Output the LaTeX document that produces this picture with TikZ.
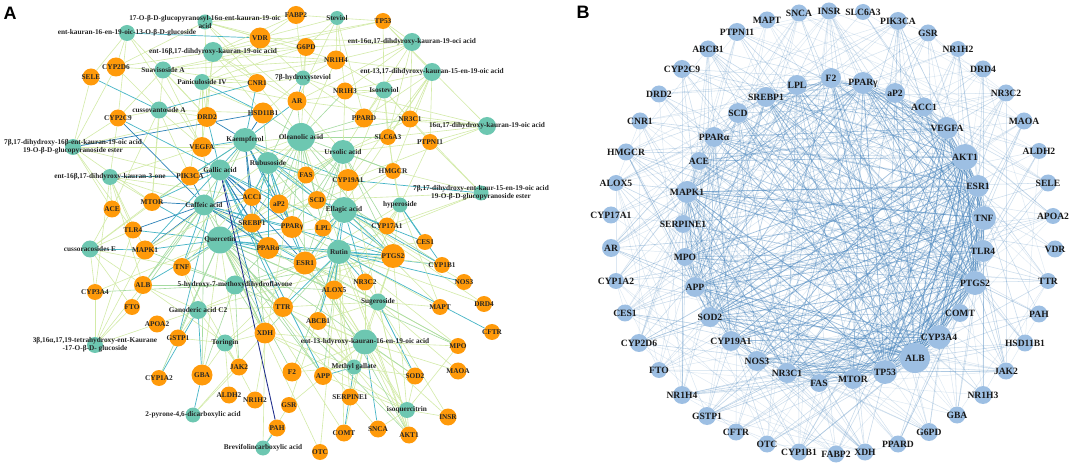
\documentclass[tikz,border=0pt]{standalone}
\usepackage{fontspec}
\setmainfont{Liberation Serif}
\newfontfamily\panelfont{Liberation Sans}
\pgfdeclarelayer{bg}\pgfdeclarelayer{fg}\pgfsetlayers{bg,main,fg}
\definecolor{cteal}{HTML}{6DC7B1}
\definecolor{corange}{HTML}{FF9A0A}
\definecolor{cblue}{HTML}{9DBFE3}
\definecolor{eLc}{HTML}{D3EBA8}
\definecolor{eMc}{HTML}{A5DBA0}
\definecolor{eTc}{HTML}{45B5C6}
\definecolor{eBc}{HTML}{2C82B8}
\definecolor{eNc}{HTML}{23318E}
\definecolor{bEc}{HTML}{4A86BE}
\tikzset{
 cmp/.style={circle,fill=cteal,inner sep=0pt,draw=none},
 tgt/.style={circle,fill=corange,inner sep=0pt,draw=none},
 bn/.style={circle,fill=cblue,inner sep=0pt,draw=none},
 labA/.style={font=\fontsize{7.3}{8}\selectfont\bfseries,text=black!85,align=center,inner sep=0pt},
 labB/.style={font=\fontsize{9.6}{10}\selectfont\bfseries,text=black!90,inner sep=0pt},
 eL/.style={draw=eLc,line width=0.6pt},
 eM/.style={draw=eMc,line width=0.6pt},
 eT/.style={draw=eTc,line width=0.7pt},
 eB/.style={draw=eBc,line width=0.7pt},
 eN/.style={draw=eNc,line width=0.9pt},
 eBl/.style={draw=bEc},
 plab/.style={font=\panelfont\bfseries\fontsize{18}{18}\selectfont,inner sep=0pt}
}
\newcommand\mkA[5]{\node[#1,minimum size=#4pt] (#2) at (#3) {};\begin{pgfonlayer}{fg}\node[labA] at (#3) {#5};\end{pgfonlayer}}
\newcommand\mkB[4]{\node[bn,minimum size=#3pt] (B#1) at (#2) {};\begin{pgfonlayer}{fg}\node[labB] at (#2) {#4};\end{pgfonlayer}}
\newcommand\kE[3]{\foreach \t in {#3} {\draw[#1] (#2) -- (A\t);}}
\def\Blist{MAPT/.3,SNCA/.3,INSR/.3,SLC6A3/.28,PIK3CA/.45,GSR/.3,NR1H2/.28,DRD4/.28,NR3C2/.32,MAOA/.3,ALDH2/.28,SELE/.3,APOA2/.28,VDR/.28,TTR/.3,PAH/.28,HSD11B1/.32,JAK2/.35,NR1H3/.35,GBA/.3,G6PD/.32,PPARD/.3,XDH/.32,FABP2/.3,CYP1B1/.32,OTC/.28,CFTR/.28,GSTP1/.4,NR1H4/.35,FTO/.25,CYP2D6/.35,CES1/.3,CYP1A2/.32,AR/.4,CYP17A1/.32,ALOX5/.35,HMGCR/.35,CNR1/.3,DRD2/.32,CYP2C9/.35,ABCB1/.35,PTPN11/.35,LPL/.6,SREBP1/.6,SCD/.55,PPARa/.6,ACE/.55,MAPK1/.8,SERPINE1/.55,MPO/.6,APP/.75,SOD2/.7,CYP19A1/.7,NOS3/.7,NR3C1/.7,FAS/.5,MTOR/.7,TP53/.9,ALB/.95,CYP3A4/.9,COMT/.5,PTGS2/.9,TLR4/.75,TNF/.9,ESR1/.85,AKT1/.95,VEGFA/.85,ACC1/.55,aP2/.55,PPARg/.75,F2/.65}
\begin{document}
\begin{tikzpicture}[x=1pt,y=-1pt]
\useasboundingbox (0,0) rectangle (1072,465);
\begin{pgfonlayer}{bg}\fill[white] (0,0) rectangle (1072,465);\end{pgfonlayer}
\node[plab] (LA) at (10,13) {A};
\node[plab] (LB) at (583,12.5) {B};
% ---------- Panel A: compounds ----------
\mkA{cmp}{K1}{205,22}{15}{17-O-β-D-glucopyranosyl-16α-ent-kauran-19-oic\\acid}
\mkA{cmp}{K2}{127,33}{16}{ent-kauran-16-en-19-oic-13-O-β-D-glucoside}
\mkA{cmp}{K3}{213,52}{20}{ent-16β,17-dihdyroxy-kauran-19-oic acid}
\mkA{cmp}{K4}{163,70}{17}{Suavisoside A}
\mkA{cmp}{K5}{202,82}{16}{Paniculoside IV}
\mkA{cmp}{K6}{159,110}{17}{cussovantoside A}
\mkA{cmp}{K7}{73,147}{16}{7β,17-dihydroxy-16β-ent-kauran-19-oic acid\\19-O-β-D-glucopyranoside ester}
\mkA{cmp}{K8}{110,177}{16}{ent-16β,17-dihdyroxy-kauran-3-one}
\mkA{cmp}{K9}{90,249}{17}{cussoracosides E}
\mkA{cmp}{K10}{95,345}{16}{3β,16α,17,19-tetrahydroxy-ent-Kaurane\\-17-O-β-D- glucoside}
\mkA{cmp}{K11}{337,18}{14}{Steviol}
\mkA{cmp}{K12}{412,42}{18}{ent-16α,17-dihdyroxy-kauran-19-oci acid}
\mkA{cmp}{K13}{432,72}{18}{ent-13,17-dihdyroxy-kauran-15-en-19-oic acid}
\mkA{cmp}{K14}{303,78}{15}{7β-hydroxysteviol}
\mkA{cmp}{K15}{384,90}{17}{Isosteviol}
\mkA{cmp}{K16}{487,126}{18}{16α,17-dihydroxy-kauran-19-oic acid}
\mkA{cmp}{K17}{481,193}{15}{7β,17-dihydroxy-ent-kaur-15-en-19-oic acid\\19-O-β-D-glucopyranoside ester}
\mkA{cmp}{K18}{400,205}{15}{hyperoside}
\mkA{cmp}{K19}{378,302}{17}{Sugeroside}
\mkA{cmp}{K20}{365,342}{25}{ent-13-hdyroxy-kauran-16-en-19-oic acid}
\mkA{cmp}{K21}{354,367}{15}{Methyl gallate}
\mkA{cmp}{K22}{407,410}{16}{isoquercitrin}
\mkA{cmp}{K23}{263,448}{15}{Brevifolincarboxylic acid}
\mkA{cmp}{K24}{193,415}{15}{2-pyrone-4,6-dicarboxylic acid}
\mkA{cmp}{K25}{225,343}{17}{Toringin}
\mkA{cmp}{K26}{198,310}{18}{Ganoderic acid C2}
\mkA{cmp}{K27}{235,285}{19}{5-hydroxy-7-methoxydihydroflavone}
\mkA{cmp}{K28}{220,240}{27}{Quercetin}
\mkA{cmp}{K29}{204,205}{21}{Caffeic acid}
\mkA{cmp}{K30}{220,170}{21}{Gallic acid}
\mkA{cmp}{K31}{245,140}{24}{Kaempferol}
\mkA{cmp}{K32}{301,137}{28}{Oleanolic acid}
\mkA{cmp}{K33}{343,152}{24}{Ursolic acid}
\mkA{cmp}{K34}{268,163}{22}{Rubusoside}
\mkA{cmp}{K35}{344,210}{26}{Ellagic acid}
\mkA{cmp}{K36}{339,252}{24}{Rutin}
% ---------- Panel A: targets ----------
\mkA{tgt}{ASELE}{91,77}{17}{SELE}
\mkA{tgt}{ACYP2D6}{116,67}{19}{CYP2D6}
\mkA{tgt}{ACNR1}{257,83}{18}{CNR1}
\mkA{tgt}{ANR1H3}{345,91}{17}{NR1H3}
\mkA{tgt}{AAR}{297,101}{19}{AR}
\mkA{tgt}{ADRD2}{207,117}{20}{DRD2}
\mkA{tgt}{AHSD11B1}{263,113}{21}{HSD11B1}
\mkA{tgt}{APPARD}{364,118}{19}{PPARD}
\mkA{tgt}{ANR3C1}{410,119}{17}{NR3C1}
\mkA{tgt}{ACYP2C9}{118,118}{17}{CYP2C9}
\mkA{tgt}{AVEGFA}{202,147}{20}{VEGFA}
\mkA{tgt}{ASLC6A3}{388,137}{16}{SLC6A3}
\mkA{tgt}{APTPN11}{430,142}{16}{PTPN11}
\mkA{tgt}{APIK3CA}{190,176}{19}{PIK3CA}
\mkA{tgt}{AFAS}{306,175}{17}{FAS}
\mkA{tgt}{ACYP19A1}{348,180}{22}{CYP19A1}
\mkA{tgt}{AHMGCR}{393,171}{16}{HMGCR}
\mkA{tgt}{AACE}{112,209}{17}{ACE}
\mkA{tgt}{AMTOR}{152,202}{18}{MTOR}
\mkA{tgt}{AACC1}{252,197}{18}{ACC1}
\mkA{tgt}{AaP2}{279,204}{19}{aP2}
\mkA{tgt}{ASCD}{317,200}{18}{SCD}
\mkA{tgt}{ASREBP1}{252,223}{19}{SREBP1}
\mkA{tgt}{ATLR4}{133,230}{17}{TLR4}
\mkA{tgt}{APPARg}{292,227}{22}{PPARγ}
\mkA{tgt}{ALPL}{323,228}{17}{LPL}
\mkA{tgt}{ACYP17A1}{387,226}{17}{CYP17A1}
\mkA{tgt}{AMAPK1}{145,250}{19}{MAPK1}
\mkA{tgt}{APPARa}{268,248}{22}{PPARα}
\mkA{tgt}{ACES1}{425,242}{16}{CES1}
\mkA{tgt}{AESR1}{305,263}{23}{ESR1}
\mkA{tgt}{APTGS2}{393,256}{24}{PTGS2}
\mkA{tgt}{ACYP1B1}{442,265}{16}{CYP1B1}
\mkA{tgt}{ATNF}{182,267}{18}{TNF}
\mkA{tgt}{ANOS3}{464,282}{16}{NOS3}
\mkA{tgt}{ACYP3A4}{95,292}{16}{CYP3A4}
\mkA{tgt}{AALB}{143,285}{18}{ALB}
\mkA{tgt}{ANR3C2}{365,282}{17}{NR3C2}
\mkA{tgt}{AALOX5}{334,290}{19}{ALOX5}
\mkA{tgt}{AMAPT}{440,307}{16}{MAPT}
\mkA{tgt}{ADRD4}{484,304}{16}{DRD4}
\mkA{tgt}{ATTR}{283,307}{20}{TTR}
\mkA{tgt}{AFTO}{132,307}{16}{FTO}
\mkA{tgt}{AABCB1}{318,321}{18}{ABCB1}
\mkA{tgt}{AXDH}{265,333}{21}{XDH}
\mkA{tgt}{AAPOA2}{157,324}{17}{APOA2}
\mkA{tgt}{AGSTP1}{178,338}{17}{GSTP1}
\mkA{tgt}{ACFTR}{492,332}{16}{CFTR}
\mkA{tgt}{AMPO}{458,346}{16}{MPO}
\mkA{tgt}{AJAK2}{239,367}{17}{JAK2}
\mkA{tgt}{ACYP1A2}{159,378}{16}{CYP1A2}
\mkA{tgt}{AGBA}{202,375}{21}{GBA}
\mkA{tgt}{ASOD2}{415,376}{17}{SOD2}
\mkA{tgt}{AMAOA}{458,371}{17}{MAOA}
\mkA{tgt}{AF2}{292,372}{19}{F2}
\mkA{tgt}{AAPP}{323,376}{18}{APP}
\mkA{tgt}{AALDH2}{229,395}{17}{ALDH2}
\mkA{tgt}{ANR1H2}{255,400}{17}{NR1H2}
\mkA{tgt}{ASERPINE1}{350,397}{17}{SERPINE1}
\mkA{tgt}{AGSR}{289,405}{16}{GSR}
\mkA{tgt}{AINSR}{448,417}{17}{INSR}
\mkA{tgt}{APAH}{277,428}{17}{PAH}
\mkA{tgt}{ACOMT}{344,433}{17}{COMT}
\mkA{tgt}{ASNCA}{378,429}{17}{SNCA}
\mkA{tgt}{AAKT1}{409,435}{17}{AKT1}
\mkA{tgt}{AOTC}{320,452}{16}{OTC}
\mkA{tgt}{AFABP2}{296,15}{18}{FABP2}
\mkA{tgt}{ATP53}{383,21}{16}{TP53}
\mkA{tgt}{AVDR}{260,38}{21}{VDR}
\mkA{tgt}{AG6PD}{306,47}{18}{G6PD}
\mkA{tgt}{ANR1H4}{336,60}{19}{NR1H4}
% ---------- Panel A: edges ----------
\begin{pgfonlayer}{bg}
\kE{eL}{K1}{VDR,FABP2,G6PD,NR1H4,CYP2D6,DRD2,AR,CNR1}
\kE{eL}{K2}{CYP2D6,SELE,CYP2C9,VEGFA,DRD2}
\kE{eT}{K2}{VDR}
\kE{eL}{K3}{VDR,FABP2,CNR1,NR1H4,HSD11B1,AR,DRD2,CYP2D6,VEGFA,G6PD,TP53}
\kE{eL}{K4}{CYP2D6,CNR1,DRD2,TP53,HSD11B1,CYP2C9,MTOR,VEGFA,NR1H4,G6PD}
\kE{eL}{K5}{DRD2,CNR1,G6PD,AR,NR1H4,PIK3CA,VEGFA,FABP2}
\kE{eT}{K5}{HSD11B1}
\kE{eL}{K6}{CYP2D6,CYP2C9,DRD2,VEGFA,ACE,MTOR,PIK3CA,HSD11B1}
\kE{eT}{K6}{SELE,CNR1}
\kE{eL}{K7}{CYP2C9,VEGFA,DRD2,PIK3CA,MTOR,ACE,CYP2D6,SELE,TLR4}
\kE{eB}{K7}{HSD11B1}
\kE{eL}{K8}{MTOR,ACE,TLR4,MAPK1,CYP3A4,VEGFA,ACC1,SREBP1,ALB,CYP2C9}
\kE{eT}{K8}{PIK3CA}
\kE{eL}{K9}{ALB,TLR4,ACE,CYP3A4,MTOR,TNF,FTO,PIK3CA}
\kE{eT}{K9}{MAPK1}
\kE{eL}{K10}{CYP3A4,FTO,ALB,MAPK1,APOA2,TLR4}
\kE{eL}{K11}{FABP2,TP53,G6PD,NR1H4,VDR,AR,PPARD,NR1H3}
\kE{eL}{K12}{TP53,NR1H4,NR1H3,PPARD,NR3C1,SLC6A3,G6PD,VDR,AR}
\kE{eL}{K13}{NR1H3,PPARD,NR3C1,SLC6A3,PTPN11,CYP19A1,TP53,NR1H4,HMGCR,ESR1}
\kE{eL}{K14}{NR1H4,G6PD,VDR,HSD11B1,CNR1,NR1H3,PPARD,FABP2}
\kE{eT}{K14}{AR}
\kE{eL}{K15}{NR1H3,NR3C1,PPARD,SLC6A3,AR,TP53,NR1H4,HMGCR,CYP19A1,PTPN11}
\kE{eL}{K16}{NR3C1,PTPN11,SLC6A3,PPARD,NR1H3,AR,CYP19A1,TP53}
\kE{eL}{K17}{HMGCR,PTPN11,CYP17A1,SCD,ESR1,NR3C1}
\kE{eT}{K17}{CYP19A1}
\kE{eL}{K18}{PTGS2,CYP17A1,HMGCR,ESR1,ALOX5,NR3C2,MAPT,SLC6A3,PTPN11}
\kE{eT}{K18}{CES1,CYP1B1}
\kE{eL}{K19}{MPO,MAOA,PTGS2,NR3C2,ALOX5,TTR,ESR1,ABCB1,MAPT,INSR,AKT1}
\kE{eT}{K19}{SOD2}
\kE{eL}{K20}{AKT1,INSR,MPO,SOD2,TTR,ABCB1,F2,APP,SERPINE1,PTGS2,ESR1,ALOX5,NR3C2,MAOA,GSR,COMT,XDH}
\kE{eT}{K20}{SNCA}
\kE{eL}{K21}{TTR,XDH,F2,SERPINE1,AKT1,SOD2,ESR1,PTGS2,ALOX5,ABCB1}
\kE{eT}{K21}{APP,COMT}
\kE{eL}{K22}{AKT1,INSR,SNCA,SOD2,MPO,ESR1,PTGS2,ALOX5,TTR,XDH,APP}
\kE{eL}{K23}{GSR,XDH}
\kE{eT}{K23}{PAH}
\kE{eL}{K24}{JAK2,XDH}
\kE{eT}{K24}{GBA}
\kE{eL}{K25}{GBA,JAK2,XDH,ALDH2,NR1H2,GSTP1,TTR,ESR1,ALB,TNF}
\kE{eL}{K26}{GSTP1,APOA2,JAK2,ALB,TNF,ESR1,PTGS2,TTR}
\kE{eT}{K26}{CYP1A2,GBA}
\kE{eM}{K27}{TNF,ALB,ESR1,PTGS2,TTR,XDH,ALOX5,GBA,JAK2,CYP3A4,MAPK1,PPARa}
\kE{eL}{K28}{CYP3A4,CYP19A1,NR3C2,COMT,JAK2,GBA,aP2,LPL,SCD,FAS,HMGCR,OTC,SNCA}
\kE{eM}{K28}{AKT1,VEGFA,CYP1A2,XDH,TTR,APP,F2,GSTP1,SOD2,MPO,ALOX5}
\kE{eT}{K28}{TNF,MAPK1,ALB,ESR1,PTGS2,PPARa,PPARg,SREBP1,ACC1,MTOR,TLR4,CYP1B1}
\kE{eM}{K29}{ALB,XDH,MPO,APP,ALOX5,GBA,FTO}
\kE{eT}{K29}{PPARg,ESR1,PTGS2,TNF}
\kE{eB}{K29}{MTOR,TLR4,MAPK1,PIK3CA,ACC1,SREBP1,PPARa,CYP2C9}
\kE{eT}{K30}{aP2,PTGS2,TTR,APP,MTOR,CYP2C9,DRD2,GSTP1}
\kE{eB}{K30}{PIK3CA,ACC1,SREBP1,PPARa,PPARg,ESR1,XDH}
\kE{eN}{K30}{PAH}
\kE{eM}{K31}{CYP1B1,TNF,AKT1,MTOR,ALB,SCD,FAS,XDH}
\kE{eT}{K31}{VEGFA,AR,CNR1,ESR1,PTGS2,CYP19A1,MAPK1,PIK3CA}
\kE{eB}{K31}{HSD11B1,DRD2,ACC1,SREBP1,PPARg}
\kE{eL}{K32}{MAPK1,AKT1,VEGFA,TNF,PIK3CA,CNR1,NR1H4,G6PD,NR1H2}
\kE{eM}{K32}{AR,HSD11B1,NR1H3,PPARD,NR3C1,SLC6A3,FAS,SCD,aP2,PPARg,LPL,SREBP1,ACC1,HMGCR,CYP19A1,ESR1,PTGS2}
\kE{eL}{K33}{NR3C1,PPARD,SLC6A3,PTPN11,NR1H3,AR,TNF,MAPK1,AKT1,VEGFA,ALOX5}
\kE{eM}{K33}{HMGCR,CYP19A1,SCD,FAS,aP2,PPARg,LPL,ESR1,PTGS2,CYP17A1}
\kE{eM}{K34}{LPL,HSD11B1,AR,CYP19A1}
\kE{eT}{K34}{ACC1,aP2,FAS,SCD,SREBP1,PPARg,PPARa,ESR1}
\kE{eL}{K35}{TTR,MAPT,DRD4,NOS3,CYP19A1,HMGCR,PPARg,aP2}
\kE{eT}{K35}{CYP17A1,PTGS2,CES1,CYP1B1,LPL,SCD,ESR1,NR3C2,ALOX5,ABCB1}
\kE{eL}{K36}{SOD2,MPO,MAPT,DRD4,CYP1B1,CES1,AKT1,SERPINE1,GSR,OTC,COMT}
\kE{eM}{K36}{LPL,PPARg,PPARa,XDH,F2,APP}
\kE{eT}{K36}{ESR1,PTGS2,ALOX5,NR3C2,TTR,ABCB1,NOS3,CFTR}
\end{pgfonlayer}
% ---------- Panel B: nodes ----------
\mkB{MAPT}{767,20}{17}{MAPT}
\mkB{SNCA}{799,13}{17}{SNCA}
\mkB{INSR}{829,11}{17}{INSR}
\mkB{SLC6A3}{863,12}{16}{SLC6A3}
\mkB{PIK3CA}{898,21}{18}{PIK3CA}
\mkB{GSR}{928,33}{17}{GSR}
\mkB{NR1H2}{958,49}{16}{NR1H2}
\mkB{DRD4}{983,69}{17}{DRD4}
\mkB{NR3C2}{1006,93}{17}{NR3C2}
\mkB{MAOA}{1024,121}{17}{MAOA}
\mkB{ALDH2}{1039,151}{16}{ALDH2}
\mkB{SELE}{1048,183}{17}{SELE}
\mkB{APOA2}{1053,216}{16}{APOA2}
\mkB{VDR}{1055,249}{17}{VDR}
\mkB{TTR}{1048,281}{16}{TTR}
\mkB{PAH}{1039,314}{17}{PAH}
\mkB{HSD11B1}{1025,343}{17}{HSD11B1}
\mkB{JAK2}{1006,371}{17}{JAK2}
\mkB{NR1H3}{983,395}{18}{NR1H3}
\mkB{GBA}{957,415}{17}{GBA}
\mkB{G6PD}{929,432}{18}{G6PD}
\mkB{PPARD}{898,444}{17}{PPARD}
\mkB{XDH}{865,452}{17}{XDH}
\mkB{FABP2}{836,454}{17}{FABP2}
\mkB{CYP1B1}{799,452}{17}{CYP1B1}
\mkB{OTC}{767,444}{17}{OTC}
\mkB{CFTR}{736,432}{17}{CFTR}
\mkB{GSTP1}{707,416}{18}{GSTP1}
\mkB{NR1H4}{682,395}{18}{NR1H4}
\mkB{FTO}{659,370}{16}{FTO}
\mkB{CYP2D6}{639,343}{18}{CYP2D6}
\mkB{CES1}{625,313}{17}{CES1}
\mkB{CYP1A2}{616,281}{16}{CYP1A2}
\mkB{AR}{611,248}{18}{AR}
\mkB{CYP17A1}{611,215}{17}{CYP17A1}
\mkB{ALOX5}{616,183}{16}{ALOX5}
\mkB{HMGCR}{626,152}{17}{HMGCR}
\mkB{CNR1}{640,121}{17}{CNR1}
\mkB{DRD2}{659,94}{17}{DRD2}
\mkB{CYP2C9}{682,69}{18}{CYP2C9}
\mkB{ABCB1}{708,49}{17}{ABCB1}
\mkB{PTPN11}{737,32}{18}{PTPN11}
\mkB{LPL}{797,85}{20}{LPL}
\mkB{SREBP1}{766,97}{20}{SREBP1}
\mkB{SCD}{738,113}{20}{SCD}
\mkB{PPARa}{714,137}{20}{PPARα}
\mkB{ACE}{699,161}{18}{ACE}
\mkB{MAPK1}{687,192}{22}{MAPK1}
\mkB{SERPINE1}{683,224}{18}{SERPINE1}
\mkB{MPO}{685,257}{18}{MPO}
\mkB{APP}{695,287}{20}{APP}
\mkB{SOD2}{710,317}{20}{SOD2}
\mkB{CYP19A1}{731,341}{20}{CYP19A1}
\mkB{NOS3}{757,361}{20}{NOS3}
\mkB{NR3C1}{787,373}{20}{NR3C1}
\mkB{FAS}{819,383}{18}{FAS}
\mkB{MTOR}{853,379}{20}{MTOR}
\mkB{TP53}{885,372}{24}{TP53}
\mkB{ALB}{915,358}{30}{ALB}
\mkB{CYP3A4}{939,337}{24}{CYP3A4}
\mkB{COMT}{960,313}{18}{COMT}
\mkB{PTGS2}{975,283}{24}{PTGS2}
\mkB{TLR4}{983,251}{22}{TLR4}
\mkB{TNF}{984,218}{24}{TNF}
\mkB{ESR1}{978,186}{22}{ESR1}
\mkB{AKT1}{965,157}{26}{AKT1}
\mkB{VEGFA}{947,128}{22}{VEGFA}
\mkB{ACC1}{924,107}{19}{ACC1}
\mkB{aP2}{895,93}{20}{aP2}
\mkB{PPARg}{863,83}{22}{PPARγ}
\mkB{F2}{831,78}{20}{F2}
% ---------- Panel B: edges ----------
\pgfmathsetseed{4711}
\begin{pgfonlayer}{bg}
\foreach \a/\wa [count=\i] in \Blist {
  \foreach \b/\wb [count=\j] in \Blist {
    \ifnum\j>\i
      \pgfmathsetmacro\pp{\wa*\wb}
      \pgfmathsetmacro\rr{rnd}
      \ifdim\rr pt<\pp pt
        \pgfmathsetmacro\op{0.12+0.65*\pp}
        \pgfmathsetmacro\lw{0.4+0.55*\pp}
        \draw[eBl,draw opacity=\op,line width=\lw pt] (B\a) -- (B\b);
      \fi
    \fi
  }
}
\end{pgfonlayer}
\end{tikzpicture}
\end{document}
